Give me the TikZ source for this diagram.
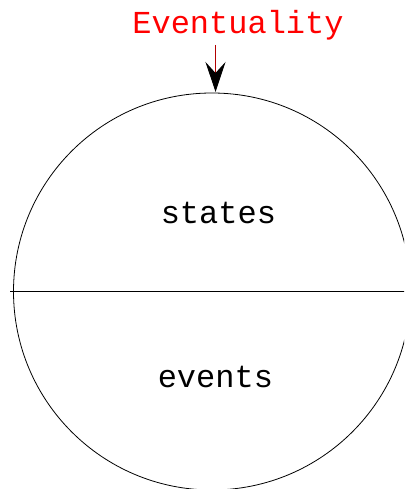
\documentclass[tikz,border=0pt]{standalone}
\usepackage{fontspec}
\setmonofont{Liberation Mono}
\usetikzlibrary{arrows.meta}
\begin{document}
\begin{tikzpicture}[x=1pt,y=1pt,
  lbl/.style={font=\ttfamily\fontsize{32}{32}\selectfont, inner sep=0pt, anchor=base},
  ring/.style={draw=black, line width=0.8pt, circle, minimum size=397pt, inner sep=0pt},
  divider/.style={draw=black, line width=0.8pt},
  pointer/.style={draw=red!70!black, line width=1pt, -{Stealth[black, fill=black, length=30pt, width=20pt, inset=11pt, line width=1pt]}}]
\useasboundingbox (0,0) rectangle (404,489);
\clip (0,0) rectangle (404,489);
\fill[white] (0,0) rectangle (404,489);
\node[ring] (c) at (212,197.5) {};
\node[lbl, text=red] (ev) at (238,455.7) {Eventuality};
\node[lbl] (st) at (218.4,265.7) {states};
\node[lbl] (en) at (215.4,101.3) {events};
\coordinate (as) at (215.5,444);
\coordinate (ae) at (215.5,397);
\draw[pointer] (as) -- (ae);
\coordinate (dl) at (10,198);
\coordinate (dr) at (410,198);
\draw[divider] (dl) -- (dr);
\end{tikzpicture}
\end{document}
